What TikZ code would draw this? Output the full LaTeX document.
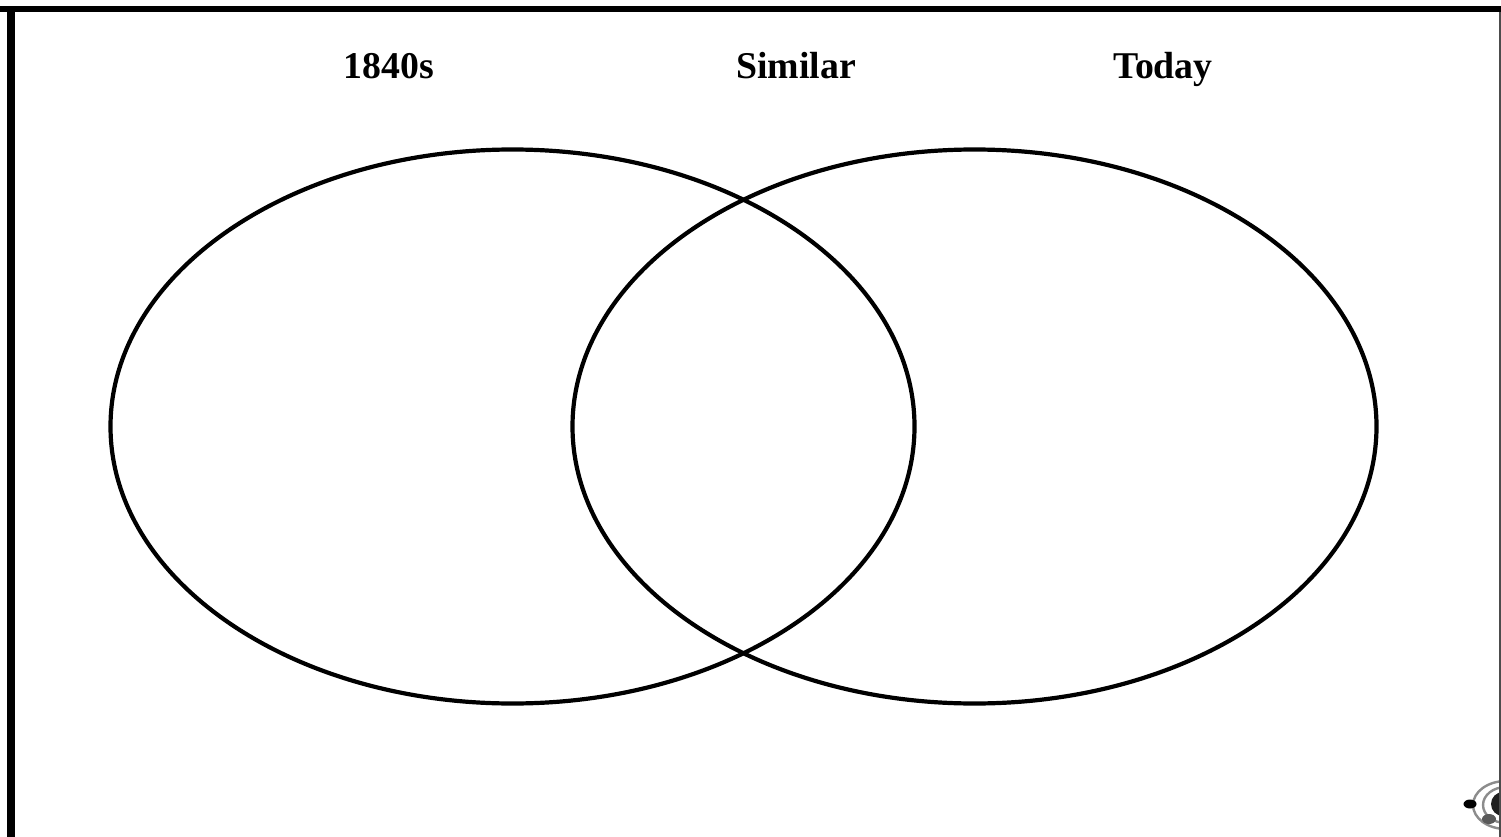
\documentclass[tikz,border=0pt]{standalone}
\usepackage{fontspec}
\setmainfont{Liberation Serif}
\tikzset{ring/.style={draw=black,line width=4.2pt},head/.style={font=\bfseries\fontsize{37.8}{40}\selectfont,anchor=base,inner sep=0pt},
orbit/.style={draw=black!45,line width=2.4pt}}
\begin{document}
\begin{tikzpicture}[x=1pt,y=-1pt]
\useasboundingbox[fill=white] (0,0) rectangle (1501,837);
\begin{scope}
\clip (0,0) rectangle (1501,837);
\draw[orbit] (1506,805) ellipse [x radius=33,y radius=24];
\draw[orbit] (1506,805) ellipse [x radius=23,y radius=18];
\fill[black!88] (1503,804) circle [radius=12];
\fill[black!65] (1489,819) ellipse [x radius=7,y radius=5];
\fill[black] (1470,804) ellipse [x radius=6.5,y radius=4.5];
\end{scope}
\fill[black] (0,6) rectangle (1501,12);
\fill[black] (7,6) rectangle (15,837);
\fill[black!70] (1499,12) rectangle (1501,837);
\draw[ring] (512.5,426.5) ellipse [x radius=402,y radius=277];
\draw[ring] (974.5,426.5) ellipse [x radius=402,y radius=277];
\node[head] (a) at (389,79) {1840s};
\node[head] (b) at (796,79) {Similar};
\node[head] (c) at (1163,79) {Today};
\end{tikzpicture}
\end{document}
